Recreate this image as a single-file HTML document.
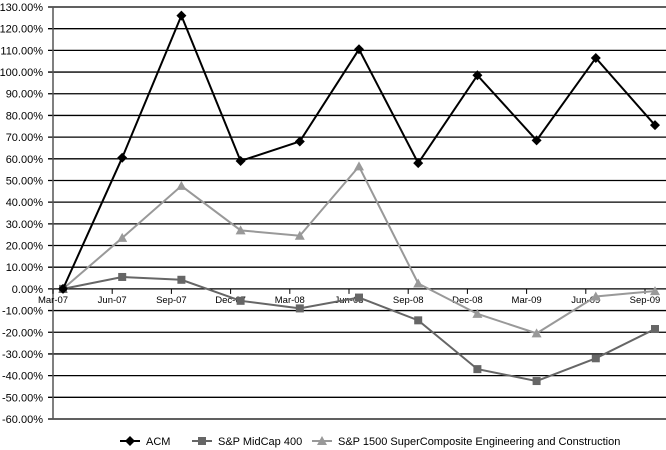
<!DOCTYPE html>
<html><head><meta charset="utf-8"><style>
html,body{margin:0;padding:0;background:#fff;width:666px;height:450px;overflow:hidden}
svg{font-family:"Liberation Sans",Arial,sans-serif}
</style></head><body>
<svg id="chart" width="666" height="450" viewBox="0 0 666 450" xmlns="http://www.w3.org/2000/svg"></svg>
<script>
const categories=["Mar-07","Jun-07","Sep-07","Dec-07","Mar-08","Jun-08","Sep-08","Dec-08","Mar-09","Jun-09","Sep-09"];
const acm=[0,60.5,126,59,68,110.5,58,98.5,68.5,106.5,75.5];
const midcap=[0,5.5,4.2,-5.5,-9,-4,-14.5,-37,-42.5,-32,-18.5];
const sc1500=[0,23.5,47.5,27,24.5,56.5,2.5,-11.5,-20.5,-3.5,-1];
const yTicks=[130,120,110,100,90,80,70,60,50,40,30,20,10,0,-10,-20,-30,-40,-50,-60];
const seriesNames=["ACM","S&P MidCap 400","S&P 1500 SuperComposite Engineering and Construction"];

const svg=document.getElementById('chart');
const NS='http://www.w3.org/2000/svg';
const yTop=7,yBot=419,yMax=130,yMin=-60,axisX=53;
const y=v=>yTop+(yMax-v)/(yMax-yMin)*(yBot-yTop);
const step=59.2;
const x=i=>63+i*step;
function mk(t,a,p){const e=document.createElementNS(NS,t);for(const k in a)e.setAttribute(k,a[k]);(p||svg).appendChild(e);return e;}

const grid=mk('g',{});


yTicks.forEach(v=>{
  const l=mk('line',{x1:axisX-5,x2:666,y1:y(v),y2:y(v),stroke:'#000','stroke-width':1.3},grid);
  
  
  const t=mk('text',{x:43,y:y(v)+4,'text-anchor':'end','font-size':11,fill:'#000'});
  
  
  t.textContent=v.toFixed(2)+'%';
});
const ax=mk('line',{x1:axisX,x2:axisX,y1:yTop,y2:yBot,stroke:'#555','stroke-width':1.5});


categories.forEach((c,i)=>{
  const tx=axisX+i*step;
  const tk=mk('line',{x1:tx,x2:tx,y1:y(0),y2:y(0)+5,stroke:'#000'});
  
  
  const t=mk('text',{x:tx,y:y(0)+14,'text-anchor':'middle','font-size':9.5,fill:'#000'});
  
  
  t.textContent=c;
});
function marker(kind,cx,cy,col,g){
  let e;
  if(kind==='d') e=mk('polygon',{points:`${cx},${cy-5} ${cx+5},${cy} ${cx},${cy+5} ${cx-5},${cy}`,fill:col},g);
  else if(kind==='s') e=mk('rect',{x:cx-4,y:cy-4,width:8,height:8,fill:col},g);
  else e=mk('polygon',{points:`${cx},${cy-5} ${cx+5},${cy+4} ${cx-5},${cy+4}`,fill:col},g);
  return e;
}
const series=[[sc1500,'#999','t','series-sp1500'],[midcap,'#666','s','series-midcap'],[acm,'#000','d','series-acm']];
series.forEach(([d,col,k,n])=>{
  const g=mk('g',{});
  
  
  const pl=mk('polyline',{points:d.map((v,i)=>x(i)+','+y(v)).join(' '),fill:'none',stroke:col,'stroke-width':2},g);
  
  
  d.forEach((v,i)=>{const m=marker(k,x(i),y(v),col,g);
    
    });
});
// legend
const lg=mk('g',{});


const leg=[[120,'#000','d',0],[192,'#666','s',1],[312,'#999','t',2]];
leg.forEach(([lx,col,k,i])=>{
  const g=mk('g',{},lg);
  
  
  mk('line',{x1:lx,x2:lx+20,y1:441,y2:441,stroke:col,'stroke-width':2},g);
  marker(k,lx+10,441,col,g);
  const t=mk('text',{x:lx+26,y:445,'font-size':11,fill:'#000'},g);
  t.textContent=seriesNames[i];
});
</script>
</body></html>
